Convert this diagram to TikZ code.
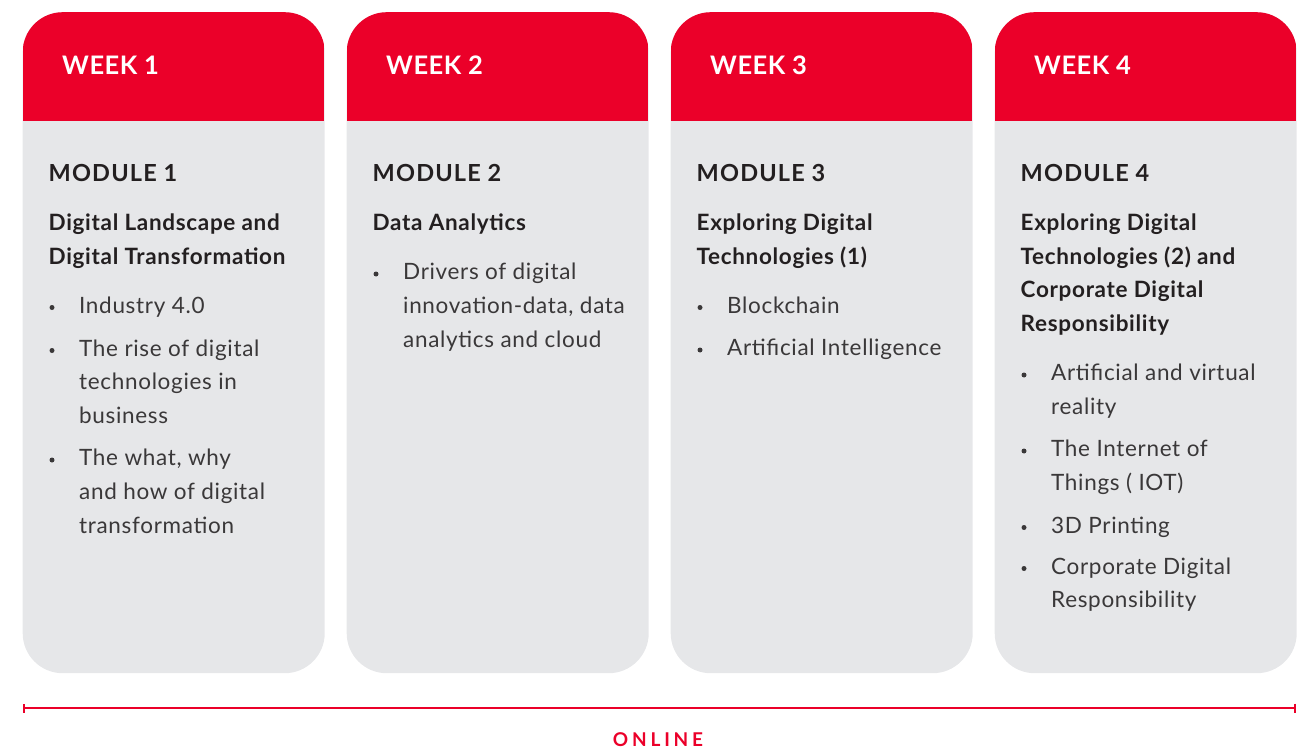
\documentclass[tikz,border=0pt]{standalone}
\usepackage{fontspec}
\setmainfont{Lato}
\usetikzlibrary{arrows.meta}
\definecolor{wred}{HTML}{EB0029}
\definecolor{cardgray}{HTML}{E6E7E9}
\definecolor{ink}{HTML}{231F20}
\definecolor{bodyink}{HTML}{3A3839}
\begin{document}
\begin{tikzpicture}[x=1pt,y=-1pt,
  card/.style={rectangle, rounded corners=40pt, fill=cardgray, minimum width=302pt,
    minimum height=661pt, inner sep=0pt, anchor=north west,
    path picture={\fill[wred, sharp corners] (path picture bounding box.north west) rectangle
      ([yshift=-109pt]path picture bounding box.north east);}},
  week/.style={anchor=base west, inner sep=0pt, text=white, font=\bfseries\fontsize{25.5}{25.5}\selectfont\addfontfeature{LetterSpace=2}},
  module/.style={anchor=base west, inner sep=0pt, text=ink, font=\bfseries\fontsize{23.5}{23.5}\selectfont\addfontfeature{LetterSpace=5}},
  title/.style={anchor=base west, inner sep=0pt, align=left, text=ink, font=\bfseries\fontsize{22.5}{33.5}\selectfont\addfontfeature{LetterSpace=3}},
  item/.style={anchor=base west, inner sep=0pt, align=left, text=bodyink, font=\fontsize{22.5}{33.7}\selectfont\addfontfeature{LetterSpace=3}},
  dot/.style={circle, fill=bodyink, inner sep=0pt, minimum size=5pt},
  timeline/.style={wred, line width=2pt, {Bar[width=9pt,line width=2.5pt]}-{Bar[width=9pt,line width=2.5pt]}}
]
\useasboundingbox (0,0) rectangle (1306,749);

% cards
\node[card] (card1) at (22.5,12) {};
\node[card] (card2) at (346.5,12) {};
\node[card] (card3) at (670.5,12) {};
\node[card] (card4) at (994.5,12) {};

% week labels
\node[week] (w1) at (62,75) {WEEK 1};
\node[week] (w2) at (386,75) {WEEK 2};
\node[week] (w3) at (710,75) {WEEK 3};
\node[week] (w4) at (1034,75) {WEEK 4};

% module labels
\node[module] (m1) at (48.5,181) {MODULE 1};
\node[module] (m2) at (372.5,181) {MODULE 2};
\node[module] (m3) at (696.5,181) {MODULE 3};
\node[module] (m4) at (1020.5,181) {MODULE 4};

% titles (anchored at baseline of last line)
\node[title] (t1) at (48.5,264) {Digital Landscape and\\Digital Transformation};
\node[title] (t2) at (372.5,230.5) {Data Analytics};
\node[title] (t3) at (696.5,264) {Exploring Digital\\Technologies (1)};
\node[title] (t4) at (1020.5,331) {Exploring Digital\\Technologies (2) and\\Corporate Digital\\Responsibility};

% module 1 items
\node[dot] (d11) at (52,307.5) {};
\node[item] (i11) at (79,313) {Industry 4.0};
\node[dot] (d12) at (52,350.5) {};
\node[item] (i12) at (79,423.4) {The rise of digital\\technologies in\\business};
\node[dot] (d13) at (52,460) {};
\node[item] (i13) at (79,533) {The what, why\\and how of digital\\transformation};

% module 2 items
\node[dot] (d21) at (376,274) {};
\node[item] (i21) at (403,347) {Drivers of digital\\innovation-data, data\\analytics and cloud};

% module 3 items
\node[dot] (d31) at (700,307.5) {};
\node[item] (i31) at (727,313) {Blockchain};
\node[dot] (d32) at (700,350) {};
\node[item] (i32) at (727,355.5) {Artificial Intelligence};

% module 4 items
\node[dot] (d41) at (1024,375) {};
\node[item] (i41) at (1051,414.2) {Artificial and virtual\\reality};
\node[dot] (d42) at (1024,451) {};
\node[item] (i42) at (1051,490.2) {The Internet of\\Things ( IOT)};
\node[dot] (d43) at (1024,527.5) {};
\node[item] (i43) at (1051,533) {3D Printing};
\node[dot] (d44) at (1024,568.5) {};
\node[item] (i44) at (1051,607.7) {Corporate Digital\\Responsibility};

% timeline
\coordinate (tlL) at (22.5,708);
\coordinate (tlR) at (1296,708);
\draw[timeline] (tlL) -- (tlR);
\node[anchor=base, inner sep=0pt, text=wred, font=\bfseries\fontsize{19}{19}\selectfont\addfontfeature{LetterSpace=20}] (online) at (658,746) {ONLINE};
\end{tikzpicture}
\end{document}
